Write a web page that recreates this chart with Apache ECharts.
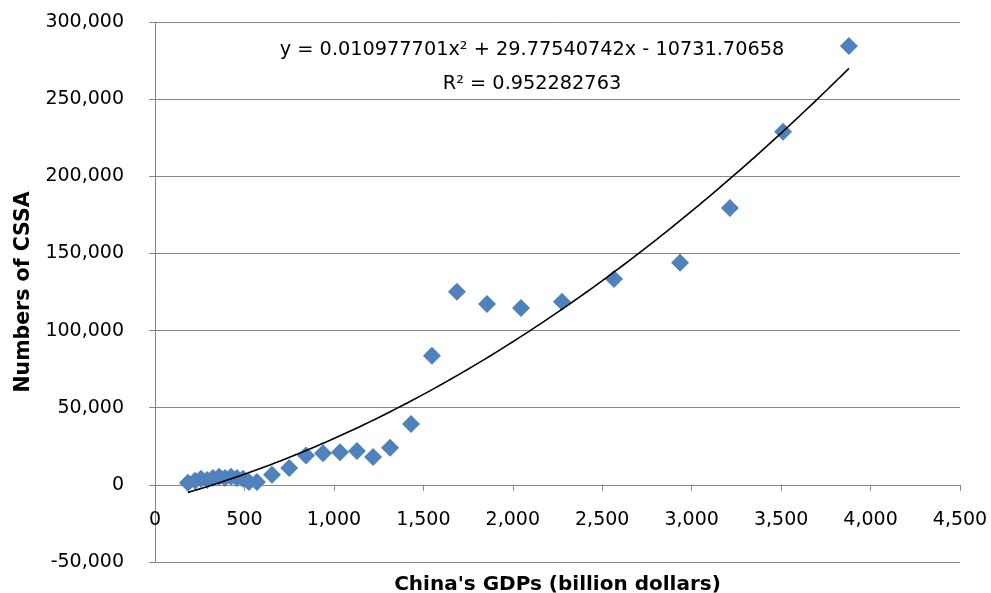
<!DOCTYPE html>
<html>
<head>
<meta charset="utf-8">
<script src="https://cdn.jsdelivr.net/npm/echarts@6/dist/echarts.min.js"></script>
<style>html,body{margin:0;padding:0;background:#fff}#c{width:991px;height:593px}</style>
</head>
<body>
<div id="c"></div>
<script>
// China's GDP (billion dollars)
const gdp = [184, 224, 257, 291, 324, 358, 391, 425, 458, 492, 525, 570, 654, 750, 844, 939, 1034, 1129, 1219, 1314, 1431, 1548, 1688, 1856, 2046, 2275, 2566, 2935, 3214, 3511, 3879];
// Numbers of CSSA
const cssa = [1300, 2600, 3900, 3200, 4500, 5200, 4500, 5200, 4500, 3900, 1900, 1900, 6500, 11000, 19000, 20500, 21200, 22000, 18000, 24000, 39500, 83600, 125100, 117300, 114700, 118600, 133500, 143900, 179500, 228800, 284500];
// Trend line: polynomial of order 2 (as displayed on chart)
const coefA = 0.010977701, coefB = 29.77540742, coefC = -10731.70658;
const rSquared = "0.952282763";
const xTicks = {min: 0, max: 4500, interval: 500};
const yTicks = {min: -50000, max: 300000, interval: 50000};

const points = gdp.map((g, i) => [g, cssa[i]]);
const xmin = Math.min(...gdp), xmax = Math.max(...gdp);
const trend = [];
for (let k = 0; k <= 120; k++) {
  const x = xmin + (xmax - xmin) * k / 120;
  trend.push([x, coefA * x * x + coefB * x + coefC]);
}
const fmt = v => v.toLocaleString('en-US');
const font = 'DejaVu Sans';
const chart = echarts.init(document.getElementById('c'), null, {renderer: 'canvas'});
chart.setOption({
  animation: false,
  backgroundColor: '#fff',
  title: {
    text: 'y = ' + coefA + 'x² + ' + coefB + 'x - ' + Math.abs(coefC) + '\nR² = ' + rSquared,
    left: 527, top: 28, textAlign: 'center',
    textStyle: {fontFamily: font, fontSize: 19.3, fontWeight: 'normal', color: '#000', lineHeight: 34}
  },
  grid: {left: 155, right: 31, top: 22, bottom: 31, containLabel: false, outerBoundsMode: 'none'},
  xAxis: {
    type: 'value', min: xTicks.min, max: xTicks.max, interval: xTicks.interval,
    name: "China's GDPs (billion dollars)", nameLocation: 'middle', nameGap: 13,
    nameTextStyle: {fontFamily: font, fontSize: 20, fontWeight: 'bold', color: '#000'},
    axisLine: {onZero: true, lineStyle: {color: '#868686', width: 1}},
    axisTick: {show: true, inside: false, length: 6, lineStyle: {color: '#868686'}},
    axisLabel: {fontFamily: font, fontSize: 19, color: '#000', margin: -51, formatter: fmt},
    splitLine: {show: false}
  },
  yAxis: {
    type: 'value', min: yTicks.min, max: yTicks.max, interval: yTicks.interval,
    name: 'Numbers of CSSA', nameLocation: 'middle', nameGap: 121, nameRotate: 90,
    nameTextStyle: {fontFamily: font, fontSize: 20.5, fontWeight: 'bold', color: '#000'},
    axisLine: {show: true, onZero: false, lineStyle: {color: '#868686', width: 1}},
    axisTick: {show: true, inside: false, length: 6, lineStyle: {color: '#868686'}},
    axisLabel: {fontFamily: font, fontSize: 19, color: '#000', margin: 31, formatter: fmt, padding: [5, 0, 0, 0]},
    splitLine: {show: true, lineStyle: {color: '#868686', width: 1}}
  },
  series: [
    {
      type: 'scatter', data: points, symbol: 'diamond', symbolSize: 18,
      itemStyle: {color: '#4f81bd', opacity: 1}, z: 2
    },
    {
      type: 'line', data: trend, showSymbol: false, symbol: 'none', smooth: false,
      lineStyle: {color: '#000', width: 1.6}, z: 3, silent: true
    }
  ]
});
</script>
</body>
</html>
